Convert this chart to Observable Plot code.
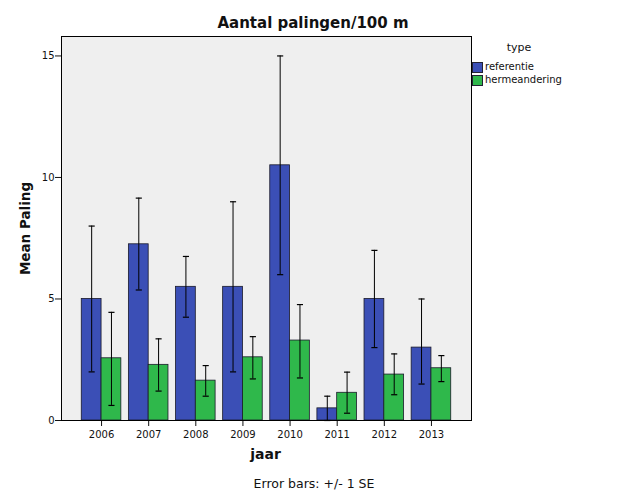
<!DOCTYPE html>
<html>
<head>
<meta charset="utf-8">
<script src="https://cdn.jsdelivr.net/npm/d3@7"></script>
<script src="https://cdn.jsdelivr.net/npm/@observablehq/plot@0.6"></script>
<style>
  body { margin: 0; background: #fff; }
  #wrap { position: relative; width: 629px; height: 504px; font-family: "DejaVu Sans", sans-serif; color: #111; }
  #wrap svg { position: absolute; left: 0; top: 0; }
  .abs { position: absolute; white-space: nowrap; }
</style>
</head>
<body>
<div id="wrap"></div>
<script>
const years = [2006, 2007, 2008, 2009, 2010, 2011, 2012, 2013];
const types = ["referentie", "hermeandering"];
const colors = ["#3b4fb6", "#2fb84b"];
const refMean = [5.0, 7.25, 5.5, 5.5, 10.5, 0.5, 5.0, 3.0];
const refLo   = [2.0, 5.37, 4.25, 2.0, 6.0, 0.0, 3.0, 1.5];
const refHi   = [8.0, 9.15, 6.75, 9.0, 15.0, 1.0, 7.0, 5.0];
const hermMean = [2.56, 2.29, 1.64, 2.6, 3.29, 1.14, 1.89, 2.15];
const hermLo   = [0.62, 1.21, 1.0, 1.71, 1.75, 0.3, 1.06, 1.6];
const hermHi   = [4.45, 3.36, 2.26, 3.45, 4.77, 1.99, 2.74, 2.67];
const yTicks = [0, 5, 10, 15];

const half = 0.42;  // bar width in year units
const cap = 0.065;
const rows = [];
years.forEach((yr, i) => {
  rows.push({year: yr, type: types[0], x1: yr - half, x2: yr, c: yr - half / 2, mean: refMean[i], lo: refLo[i], hi: refHi[i]});
  rows.push({year: yr, type: types[1], x1: yr, x2: yr + half, c: yr + half / 2, mean: hermMean[i], lo: hermLo[i], hi: hermHi[i]});
});

const chart = Plot.plot({
  width: 629,
  height: 504,
  marginLeft: 61,
  marginRight: 158,
  marginTop: 36,
  marginBottom: 84,
  style: {fontFamily: "DejaVu Sans, sans-serif", fontSize: "10px", color: "#111", background: "transparent"},
  x: {domain: [2005.15, 2013.85]},
  y: {domain: [0, 15.8]},
  color: {domain: types, range: colors},
  marks: [
    Plot.frame({fill: "#efefef"}),
    Plot.rect(rows, {x1: "x1", x2: "x2", y1: 0, y2: "mean", fill: "type", stroke: "#1a1a2a", strokeWidth: 0.8}),
    Plot.ruleX(rows, {x: "c", y1: "lo", y2: "hi", stroke: "#000", strokeWidth: 1}),
    Plot.link(rows, {x1: d => d.c - cap, x2: d => d.c + cap, y1: "hi", y2: "hi", stroke: "#000", strokeWidth: 1.2}),
    Plot.link(rows, {x1: d => d.c - cap, x2: d => d.c + cap, y1: "lo", y2: "lo", stroke: "#000", strokeWidth: 1.2}),
    Plot.axisY({ticks: yTicks, tickSize: 6, tickPadding: 1, label: "Mean Paling", labelAnchor: "center", labelArrow: "none", labelOffset: 41, fontSize: 10}),
    Plot.axisX({ticks: years, tickFormat: d => String(d), tickSize: 6, tickPadding: 4, label: null, fontSize: 10}),
    Plot.frame({stroke: "#000", strokeWidth: 1})
  ]
});

const wrap = document.getElementById("wrap");
wrap.appendChild(chart);
chart.querySelectorAll("text").forEach(t => {
  if (t.textContent === "Mean Paling") {
    t.setAttribute("font-weight", "bold");
    t.setAttribute("font-size", "13.5");
  }
});

function addText(txt, css) {
  const d = document.createElement("div");
  d.className = "abs";
  d.textContent = txt;
  Object.assign(d.style, css);
  wrap.appendChild(d);
  return d;
}
// title
addText("Aantal palingen/100 m", {left: "113px", width: "400px", textAlign: "center", top: "14px", fontSize: "15px", fontWeight: "bold"});
// x label
addText("jaar", {left: "0px", width: "531px", textAlign: "center", top: "446px", fontSize: "14px", fontWeight: "bold"});
// caption
addText("Error bars: +/- 1 SE", {left: "114px", width: "400px", textAlign: "center", top: "476px", fontSize: "12.5px"});
// legend
addText("type", {left: "471px", width: "96px", textAlign: "center", top: "41px", fontSize: "11px"});
types.forEach((t, i) => {
  const sw = document.createElement("div");
  sw.className = "abs";
  Object.assign(sw.style, {left: "472px", top: (62 + i * 13) + "px", width: "9px", height: "9px", background: colors[i], border: "1px solid #223"});
  wrap.appendChild(sw);
  addText(t, {left: "485px", top: (60 + i * 13) + "px", fontSize: "10px", lineHeight: "13px"});
});
</script>
</body>
</html>
